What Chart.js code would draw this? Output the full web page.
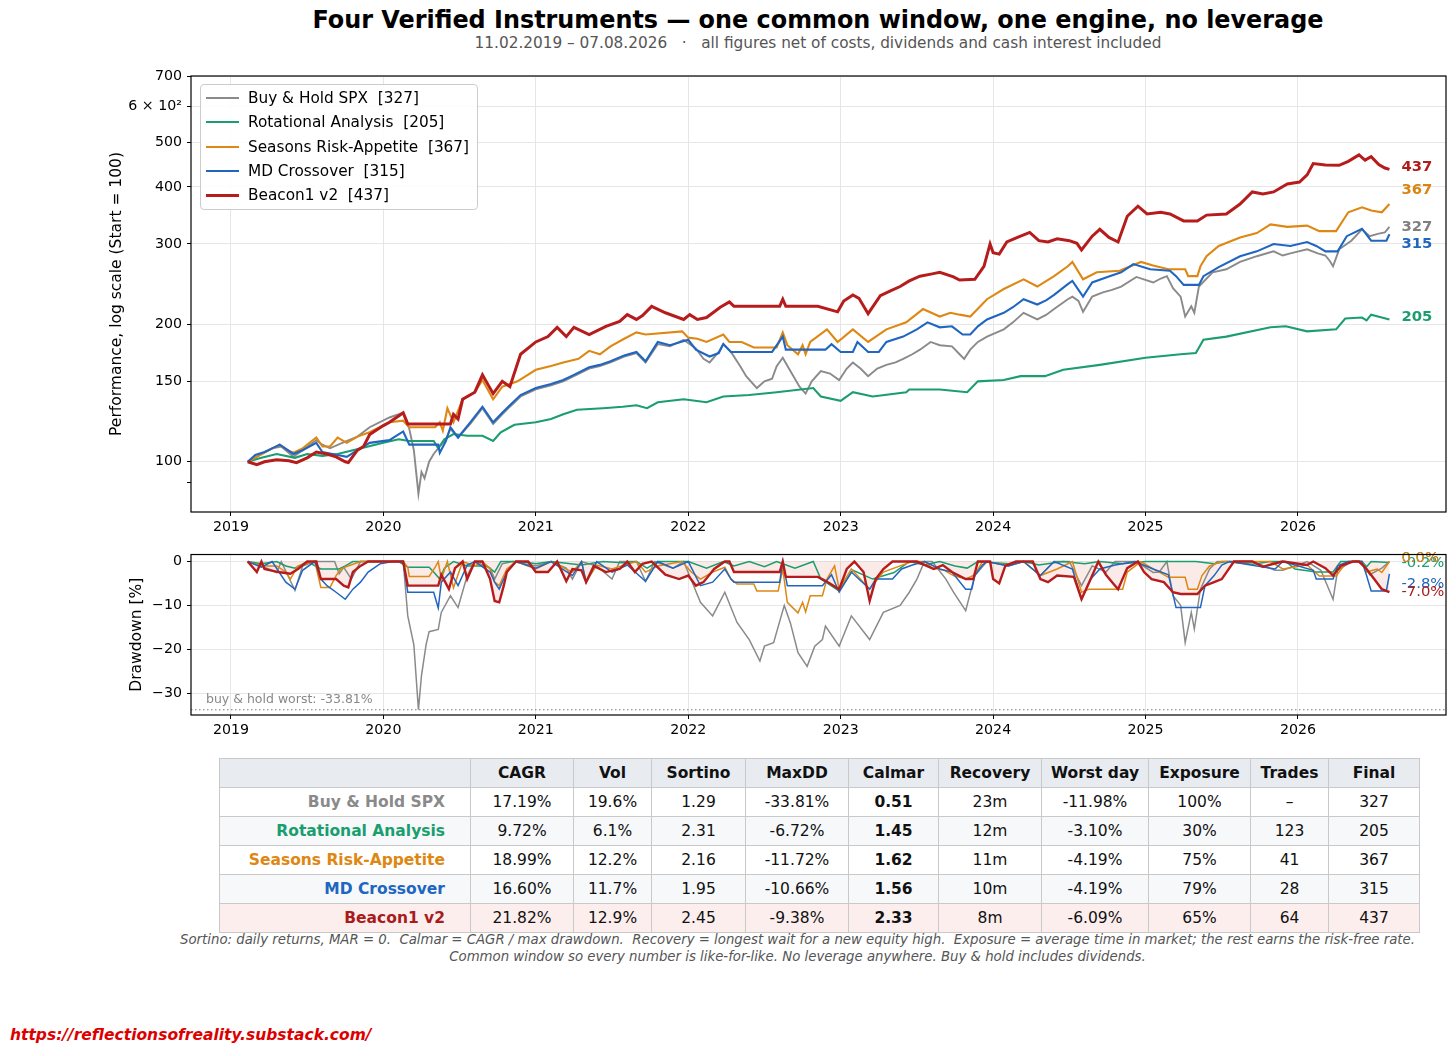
<!DOCTYPE html>
<html>
<head>
<meta charset="utf-8">
<script src="https://cdn.jsdelivr.net/npm/chart.js@4.4.1/dist/chart.umd.min.js"></script>
<style>
  body { margin: 0; width: 1456px; height: 1056px; background: #fff; position: relative; overflow: hidden;
         font-family: "DejaVu Sans", sans-serif; color: #000; }
  .abs { position: absolute; }
  #title { left: 0; top: 5px; width: 1636px; text-align: center; font-size: 23.9px; font-weight: bold; line-height: 30px; }
  #subtitle { left: 0; top: 34px; width: 1636px; text-align: center; font-size: 15.3px; color: #555; line-height: 18px; white-space: pre; }
  #legend { left: 200px; top: 84px; width: 276px; height: 124px; border: 1px solid #ccc; border-radius: 4px;
            background: rgba(255,255,255,0.85); }
  .leg-item { position: absolute; left: 0; height: 24px; line-height: 24px; font-size: 15.3px; white-space: pre; }
  .leg-line { position: absolute; left: 5px; width: 33px; }
  .leg-text { position: absolute; left: 47px; top: 0; }
  table { position: absolute; left: 219px; top: 758px; width: 1200px; border-collapse: collapse; table-layout: fixed;
          font-size: 15.5px; }
  td, th { border: 1px solid #c9c9c9; height: 28px; padding: 0; text-align: center; color: #111; }
  th { background: #e8ecf1; font-weight: bold; }
  td.name { text-align: right; padding-right: 25px; font-weight: bold; }
  td.bold { font-weight: bold; }
  #foot { left: 0; top: 932px; width: 1595px; text-align: center; font-size: 13.3px; font-style: italic; color: #555;
          line-height: 16.5px; white-space: pre; }
  #mark { left: 10px; top: 1026px; font-size: 15.5px; font-weight: bold; font-style: italic; color: #dd0000; }
</style>
</head>
<body>
<div id="title" class="abs">Four Verified Instruments — one common window, one engine, no leverage</div>
<div id="subtitle" class="abs">11.02.2019 – 07.08.2026   ·   all figures net of costs, dividends and cash interest included</div>

<canvas id="perfChart" class="abs" style="left:0;top:60px" width="1456" height="482"></canvas>
<canvas id="ddChart" class="abs" style="left:0;top:541px" width="1456" height="204"></canvas>
<div id="legend" class="abs"></div>
<table id="stats"></table>
<div id="foot" class="abs">Sortino: daily returns, MAR = 0.  Calmar = CAGR / max drawdown.  Recovery = longest wait for a new equity high.  Exposure = average time in market; the rest earns the risk-free rate.
Common window so every number is like-for-like. No leverage anywhere. Buy &amp; hold includes dividends.</div>
<div id="mark" class="abs">https://reflectionsofreality.substack.com/</div>

<script>
// ---- data (decimal year, value) ----
const years = [2019, 2020, 2021, 2022, 2023, 2024, 2025, 2026];
const perfTicks = [90, 100, 150, 200, 300, 400, 500, 600, 700];
const ddTicks = [0, -10, -20, -30];

const names = ['Buy & Hold SPX', 'Rotational Analysis', 'Seasons Risk-Appetite', 'MD Crossover', 'Beacon1 v2'];
const finals = [327, 205, 367, 315, 437];
const ddFinals = ['0.0%', '-0.2%', '0.0%', '-2.8%', '-7.0%'];
const worstBuyHold = -33.81;

const spxPerf = [[2019.11,100],[2019.18,103],[2019.27,107],[2019.33,108],[2019.41,102.5],[2019.47,106],[2019.56,111.5],[2019.6,109],[2019.65,107],[2019.73,110],[2019.83,113.5],[2019.91,119],[2020.04,125],[2020.13,128],[2020.17,118],[2020.2,106],[2020.23,85],[2020.25,95],[2020.27,92],[2020.3,100],[2020.33,104],[2020.37,108],[2020.41,112],[2020.44,118],[2020.49,113],[2020.57,121],[2020.65,131],[2020.72,121],[2020.78,127],[2020.83,132],[2020.9,139],[2021.0,144],[2021.1,147],[2021.18,150],[2021.25,154],[2021.35,160],[2021.42,162],[2021.49,165],[2021.58,170],[2021.66,173],[2021.72,165],[2021.8,181],[2021.88,179],[2021.97,185],[2022.05,177],[2022.1,168],[2022.14,165],[2022.2,174],[2022.23,181],[2022.28,174],[2022.34,162],[2022.38,154],[2022.45,145],[2022.5,150],[2022.55,152],[2022.58,162],[2022.62,169],[2022.67,158],[2022.73,146],[2022.77,141],[2022.81,150],[2022.87,158],[2022.93,156],[2022.99,151],[2023.04,160],[2023.08,165],[2023.13,160],[2023.18,154],[2023.24,160],[2023.3,163],[2023.36,165],[2023.41,168],[2023.47,172],[2023.52,176],[2023.59,183],[2023.65,180],[2023.73,179],[2023.78,172],[2023.81,168],[2023.85,176],[2023.9,183],[2023.96,188],[2024.07,195],[2024.13,202],[2024.2,212],[2024.29,205],[2024.35,210],[2024.4,216],[2024.49,227],[2024.52,230],[2024.56,225],[2024.59,213],[2024.65,230],[2024.72,235],[2024.78,238],[2024.84,242],[2024.94,254],[2025.05,247],[2025.1,252],[2025.14,255],[2025.18,240],[2025.23,230],[2025.26,208],[2025.3,219],[2025.32,212],[2025.35,242],[2025.44,260],[2025.53,264],[2025.62,274],[2025.73,282],[2025.84,289],[2025.9,283],[2025.95,286],[2026.06,292],[2026.13,286],[2026.18,283],[2026.21,275],[2026.23,268],[2026.27,292],[2026.35,305],[2026.42,323],[2026.47,312],[2026.53,316],[2026.57,318],[2026.6,327]];

const rotPerf = [[2019.11,100],[2019.2,102],[2019.3,104],[2019.42,102],[2019.5,104],[2019.6,103],[2019.7,104],[2019.8,106],[2019.9,108],[2020.0,110],[2020.1,112],[2020.17,111],[2020.33,111],[2020.36,107],[2020.4,112],[2020.46,115],[2020.55,114],[2020.65,114],[2020.72,111],[2020.77,116],[2020.83,119],[2020.86,120.5],[2021.0,122],[2021.1,124],[2021.18,127],[2021.27,130],[2021.44,131],[2021.57,132],[2021.66,133],[2021.73,131],[2021.8,135],[2021.97,137],[2022.12,135],[2022.23,139],[2022.4,140],[2022.58,142],[2022.82,145],[2022.87,139],[2023.0,136],[2023.08,142],[2023.21,139],[2023.43,142],[2023.45,144],[2023.65,144],[2023.83,142],[2023.9,150],[2024.07,151],[2024.18,154],[2024.34,154],[2024.46,159],[2024.7,163],[2025.0,169],[2025.23,172],[2025.33,173],[2025.38,185],[2025.53,188],[2025.82,197],[2025.92,198],[2026.06,193],[2026.25,195],[2026.31,206],[2026.42,207],[2026.45,204],[2026.48,210],[2026.6,205]];

const seasonsPerf = [[2019.11,100],[2019.18,103],[2019.25,106],[2019.32,109],[2019.37,106],[2019.41,104.6],[2019.47,107],[2019.56,113],[2019.6,108],[2019.65,108],[2019.7,113],[2019.76,110],[2019.83,113.5],[2019.91,116],[2020.04,122],[2020.13,123],[2020.17,119],[2020.34,119],[2020.37,122],[2020.39,117],[2020.42,131],[2020.46,122],[2020.52,137],[2020.6,142],[2020.65,151],[2020.72,137],[2020.78,146],[2020.88,150],[2021.0,159],[2021.1,162],[2021.18,165],[2021.28,168],[2021.35,175],[2021.42,172],[2021.49,179],[2021.58,186],[2021.66,192],[2021.72,190],[2021.96,193],[2022.0,187],[2022.06,186],[2022.12,183],[2022.23,190],[2022.27,183],[2022.35,183],[2022.43,178],[2022.58,178],[2022.62,192],[2022.65,180],[2022.72,172],[2022.75,180],[2022.77,172],[2022.8,183],[2022.91,195],[2022.98,183],[2023.08,195],[2023.18,183],[2023.3,195],[2023.43,202],[2023.54,216],[2023.65,208],[2023.72,212],[2023.78,210],[2023.85,208],[2023.96,227],[2024.07,239],[2024.2,251],[2024.29,242],[2024.4,255],[2024.49,268],[2024.52,274],[2024.59,251],[2024.68,260],[2024.83,262],[2024.97,274],[2025.05,269],[2025.15,264],[2025.26,264],[2025.28,255],[2025.34,255],[2025.36,268],[2025.4,282],[2025.48,297],[2025.62,310],[2025.73,317],[2025.82,331],[2025.93,327],[2026.06,329],[2026.14,320],[2026.25,320],[2026.33,352],[2026.42,361],[2026.48,355],[2026.55,352],[2026.6,367]];

const mdPerf = [[2019.11,100],[2019.16,103.5],[2019.22,105],[2019.27,107],[2019.32,109],[2019.41,104],[2019.47,106],[2019.56,110],[2019.6,105],[2019.7,103.5],[2019.76,102.5],[2019.83,106],[2019.91,110],[2020.04,111.5],[2020.13,116.5],[2020.17,109],[2020.36,109],[2020.37,104.6],[2020.41,111],[2020.44,119],[2020.49,113],[2020.57,122],[2020.65,132],[2020.72,122],[2020.78,128],[2020.83,133],[2020.9,140],[2021.0,145],[2021.1,148],[2021.18,151],[2021.25,155],[2021.35,161],[2021.42,163],[2021.49,166],[2021.58,171],[2021.66,174],[2021.72,166],[2021.8,183],[2021.88,180],[2022.0,185],[2022.05,176],[2022.14,170],[2022.2,173],[2022.23,181],[2022.28,174],[2022.55,174],[2022.62,188],[2022.64,176],[2022.9,176],[2022.94,181],[2023.0,174],[2023.08,174],[2023.11,183],[2023.18,174],[2023.25,174],[2023.3,183],[2023.41,188],[2023.5,195],[2023.57,202],[2023.65,197],[2023.73,198],[2023.8,190],[2023.85,190],[2023.9,198],[2023.96,205],[2024.07,212],[2024.13,218],[2024.2,227],[2024.29,221],[2024.35,226],[2024.4,232],[2024.49,245],[2024.52,249],[2024.59,230],[2024.65,247],[2024.75,254],[2024.84,260],[2024.92,271],[2025.03,264],[2025.16,262],[2025.2,255],[2025.25,244],[2025.35,244],[2025.38,255],[2025.48,267],[2025.62,282],[2025.73,289],[2025.84,300],[2025.95,297],[2026.06,303],[2026.12,297],[2026.18,289],[2026.26,289],[2026.32,312],[2026.42,324],[2026.48,305],[2026.58,305],[2026.6,315]];

const beaconPerf = [[2019.11,100],[2019.17,98.5],[2019.22,100],[2019.3,101],[2019.38,100.5],[2019.43,99.5],[2019.5,102],[2019.56,105],[2019.63,104],[2019.69,102.5],[2019.75,100],[2019.77,99.6],[2019.83,106],[2019.87,108],[2019.91,114.7],[2020.0,120],[2020.04,122],[2020.1,126],[2020.13,128],[2020.16,121],[2020.44,121],[2020.46,127],[2020.49,124],[2020.52,137],[2020.6,142],[2020.65,155],[2020.72,141],[2020.78,150],[2020.83,146],[2020.9,172],[2021.0,183],[2021.08,188],[2021.14,197],[2021.2,188],[2021.25,197],[2021.35,190],[2021.46,198],[2021.55,203],[2021.6,210],[2021.66,205],[2021.7,209],[2021.76,219],[2021.85,212],[2021.97,205],[2022.01,210],[2022.06,205],[2022.12,207],[2022.21,218],[2022.27,224],[2022.3,219],[2022.6,219],[2022.62,227],[2022.64,219],[2022.85,219],[2022.98,213],[2023.02,225],[2023.08,232],[2023.12,228],[2023.18,211],[2023.26,231],[2023.33,237],[2023.39,242],[2023.45,249],[2023.52,255],[2023.6,258],[2023.65,260],[2023.74,254],[2023.78,250],[2023.88,251],[2023.94,268],[2023.98,300],[2024.0,287],[2024.04,285],[2024.09,303],[2024.16,310],[2024.24,318],[2024.3,305],[2024.36,303],[2024.42,308],[2024.5,305],[2024.55,301],[2024.58,291],[2024.65,312],[2024.7,323],[2024.76,310],[2024.82,303],[2024.88,345],[2024.95,363],[2025.01,349],[2025.1,352],[2025.16,349],[2025.25,337],[2025.34,337],[2025.4,347],[2025.53,349],[2025.62,367],[2025.7,390],[2025.77,386],[2025.84,390],[2025.93,406],[2026.01,410],[2026.06,425],[2026.1,450],[2026.18,447],[2026.27,446],[2026.33,455],[2026.4,470],[2026.44,458],[2026.48,466],[2026.53,448],[2026.57,440],[2026.6,437]];

const spxDD = [[2019.11,0],[2019.2,-1],[2019.3,-2.5],[2019.33,0],[2019.42,-6.6],[2019.47,-1],[2019.55,0],[2019.68,0],[2019.71,-2.8],[2019.74,-1.3],[2019.79,-4],[2019.85,0],[2020.13,0],[2020.16,-12.4],[2020.2,-19],[2020.23,-33.8],[2020.25,-26],[2020.28,-19],[2020.3,-16],[2020.36,-15.5],[2020.38,-11.6],[2020.44,-7.8],[2020.49,-10.5],[2020.55,-3.2],[2020.6,0],[2020.7,-1.5],[2020.73,-4],[2020.78,-0.5],[2020.85,0],[2021.0,-1],[2021.1,0],[2021.2,-1.5],[2021.24,-4],[2021.3,0],[2021.4,-1],[2021.5,-4],[2021.55,0],[2021.66,0],[2021.72,-4.5],[2021.78,0],[2021.9,-1.5],[2021.97,0],[2022.08,-9.3],[2022.16,-12.4],[2022.24,-7],[2022.32,-13.9],[2022.4,-17.8],[2022.47,-22.7],[2022.5,-19.3],[2022.56,-18.5],[2022.63,-10],[2022.67,-14],[2022.72,-20.8],[2022.78,-23.9],[2022.83,-19.3],[2022.88,-17.8],[2022.9,-14.7],[2022.99,-19.3],[2023.07,-12.4],[2023.19,-17.8],[2023.28,-11.6],[2023.39,-10],[2023.45,-7],[2023.5,-4],[2023.55,0],[2023.6,0],[2023.69,-4],[2023.74,-7],[2023.82,-11.2],[2023.88,-3.2],[2023.96,0],[2024.1,-1],[2024.2,0],[2024.31,-3.2],[2024.4,0],[2024.5,0],[2024.58,-5.5],[2024.65,-1],[2024.74,-2.4],[2024.8,0],[2024.94,0],[2025.05,-2.5],[2025.09,-2.4],[2025.14,0],[2025.18,-7.8],[2025.23,-10],[2025.26,-18.5],[2025.3,-11.6],[2025.32,-15.4],[2025.36,-6.3],[2025.42,-1.7],[2025.47,0],[2025.7,0],[2025.85,-2],[2025.9,-2],[2026.06,0],[2026.15,-2],[2026.23,-8.6],[2026.26,-2],[2026.35,0],[2026.42,0],[2026.47,-3],[2026.55,-1.5],[2026.6,0]];

const rotDD = [[2019.11,0],[2019.2,-0.5],[2019.3,0],[2019.36,-1],[2019.42,-1.5],[2019.5,0],[2019.59,-1.7],[2019.71,-1.7],[2019.75,-1],[2019.8,0],[2020.1,0],[2020.16,-1.3],[2020.3,-1.3],[2020.33,-2.4],[2020.37,-4],[2020.4,-1.5],[2020.46,0],[2020.55,-1],[2020.68,-1],[2020.73,-2.4],[2020.77,0],[2020.9,0],[2021.0,-0.5],[2021.1,0],[2021.3,-0.8],[2021.44,0],[2021.57,-0.3],[2021.66,0],[2021.73,-1.5],[2021.8,0],[2022.0,0],[2022.12,-1.5],[2022.23,0],[2022.3,-1],[2022.4,0],[2022.5,-1.2],[2022.58,0],[2022.7,-1.5],[2022.82,0],[2022.87,-4],[2022.99,-6.7],[2023.08,-2],[2023.21,-4],[2023.35,-2.5],[2023.45,0],[2023.55,-0.8],[2023.65,0],[2023.75,-1],[2023.83,-1.5],[2023.9,0],[2024.1,-0.5],[2024.2,0],[2024.3,-0.8],[2024.46,0],[2024.6,-0.5],[2024.7,0],[2024.85,-0.5],[2025.0,0],[2025.33,0],[2025.45,-0.5],[2025.53,0],[2025.7,-0.6],[2025.82,0],[2025.92,0],[2025.98,-1.7],[2026.12,-2.4],[2026.23,-2.4],[2026.28,0],[2026.42,0],[2026.45,-1.2],[2026.48,0],[2026.6,-0.2]];

const seasonsDD = [[2019.11,0],[2019.2,-1],[2019.3,-1],[2019.36,-2.4],[2019.39,-4],[2019.44,-1],[2019.55,0],[2019.59,-5.9],[2019.65,-5.9],[2019.69,-3.2],[2019.72,-1.7],[2019.77,-1],[2019.85,0],[2020.13,0],[2020.16,-1.3],[2020.17,-3.4],[2020.3,-3.4],[2020.34,-1.3],[2020.36,0],[2020.38,-4],[2020.42,0],[2020.46,-6],[2020.52,0],[2020.6,-1],[2020.65,0],[2020.7,-1.7],[2020.73,-4.7],[2020.76,-5.5],[2020.81,-1.7],[2020.87,0],[2021.0,-1.7],[2021.1,0],[2021.24,-2.4],[2021.3,0],[2021.33,-4.7],[2021.4,-0.8],[2021.5,-1.7],[2021.66,0],[2021.72,-2.4],[2021.8,-1],[2021.96,0],[2022.02,-2.4],[2022.08,-4],[2022.16,-2.4],[2022.24,-1.3],[2022.28,-4],[2022.32,-5.1],[2022.43,-5.1],[2022.45,-6.7],[2022.59,-6.7],[2022.62,-1.7],[2022.65,-9.3],[2022.72,-11.7],[2022.75,-9.3],[2022.77,-11.5],[2022.8,-7.8],[2022.88,-7.8],[2022.91,-4],[2022.96,-1],[2022.99,-6.3],[2023.07,-1.7],[2023.19,-6.3],[2023.28,-2.4],[2023.39,-1],[2023.47,0],[2023.55,0],[2023.6,-1.5],[2023.68,-2],[2023.74,-3.2],[2023.82,-4],[2023.88,-3],[2023.93,0],[2024.1,-0.8],[2024.2,0],[2024.31,-3.2],[2024.42,-1.7],[2024.52,0],[2024.58,-7],[2024.63,-6.3],[2024.85,-6.3],[2024.88,-2.4],[2024.97,0],[2025.05,-1.7],[2025.09,-2.4],[2025.15,-3.6],[2025.26,-3.6],[2025.28,-6.3],[2025.34,-6.3],[2025.37,-3.2],[2025.42,-1],[2025.5,0],[2025.82,0],[2025.9,-1.7],[2026.06,-0.8],[2026.14,-3.3],[2026.25,-3.3],[2026.3,-1],[2026.33,0],[2026.42,0],[2026.45,-2.4],[2026.52,-1.7],[2026.55,-2.5],[2026.6,0]];

const mdDD = [[2019.11,0],[2019.2,-1.3],[2019.27,0],[2019.36,-4.7],[2019.42,-6.3],[2019.47,-2],[2019.55,0],[2019.59,-4],[2019.63,-5.5],[2019.69,-7],[2019.75,-8.6],[2019.8,-6.3],[2019.85,-4.7],[2019.9,-2.4],[2019.98,-0.5],[2020.06,0],[2020.13,0],[2020.16,-7],[2020.33,-7],[2020.36,-10.6],[2020.38,-4.7],[2020.44,-2.4],[2020.49,-5.5],[2020.55,-0.8],[2020.6,0],[2020.7,-2.4],[2020.73,-4.7],[2020.76,-6.3],[2020.81,-2.4],[2020.87,0],[2021.0,-1.5],[2021.1,0],[2021.24,-3.2],[2021.3,0],[2021.33,-4.7],[2021.4,0],[2021.5,-2.4],[2021.6,-0.8],[2021.72,-4.5],[2021.8,0],[2021.9,-1.5],[2022.0,0],[2022.08,-5.5],[2022.16,-4.7],[2022.24,-1.7],[2022.28,-4],[2022.3,-4.7],[2022.6,-4.7],[2022.62,0],[2022.65,-5.5],[2022.88,-5.5],[2022.94,-3],[2022.99,-7],[2023.07,-2.4],[2023.19,-6.3],[2023.23,-4],[2023.34,-4],[2023.4,-1.7],[2023.47,-0.8],[2023.55,0],[2023.65,-1.7],[2023.73,-2.4],[2023.82,-6.3],[2023.86,-6.3],[2023.88,-3.2],[2023.93,-0.8],[2023.96,0],[2024.1,-1],[2024.2,0],[2024.31,-3.2],[2024.4,0],[2024.52,-1.7],[2024.58,-8.6],[2024.64,-4],[2024.7,-1.7],[2024.8,-0.8],[2024.93,0],[2025.05,-1.7],[2025.15,-3],[2025.2,-10.5],[2025.36,-10.5],[2025.39,-5.5],[2025.45,-3.2],[2025.5,-0.8],[2025.55,0],[2025.85,-1.7],[2025.9,0],[2026.1,-2],[2026.12,-4],[2026.23,-4],[2026.26,-1],[2026.33,0],[2026.42,0],[2026.45,-3.2],[2026.48,-6.7],[2026.58,-6.7],[2026.6,-2.8]];

const beaconDD = [[2019.11,0],[2019.17,-2.4],[2019.2,0],[2019.22,-1.7],[2019.31,-2.4],[2019.39,-2.8],[2019.44,-1.7],[2019.5,0],[2019.56,0],[2019.59,-4],[2019.69,-4],[2019.74,-5.5],[2019.77,-5.9],[2019.8,-2.4],[2019.85,-1],[2019.9,0],[2020.13,0],[2020.16,-5.5],[2020.36,-5.5],[2020.38,-3],[2020.43,-6.3],[2020.47,-1.5],[2020.52,0],[2020.55,-4],[2020.6,0],[2020.65,0],[2020.7,-4],[2020.73,-9],[2020.76,-9.3],[2020.79,-5.5],[2020.81,-2.4],[2020.87,0],[2020.95,0],[2021.0,-2.4],[2021.08,-2.4],[2021.14,0],[2021.2,-4.5],[2021.24,-1.7],[2021.3,-2],[2021.33,-4.7],[2021.38,-1],[2021.46,-2.4],[2021.55,-1.7],[2021.6,0],[2021.65,-2.4],[2021.7,-0.5],[2021.76,0],[2021.85,-3],[2021.94,-4],[2022.0,-3.2],[2022.05,-5.5],[2022.1,-4.7],[2022.17,-1.7],[2022.24,0],[2022.27,0],[2022.3,-2.4],[2022.6,-2.4],[2022.62,0],[2022.64,-3.5],[2022.85,-3.5],[2022.9,-4.4],[2022.99,-6.3],[2023.04,-1.7],[2023.09,0],[2023.15,-2.4],[2023.19,-9],[2023.23,-4],[2023.28,-1.7],[2023.34,0],[2023.5,0],[2023.61,-1.7],[2023.67,-0.8],[2023.73,-2.4],[2023.82,-4],[2023.87,-4],[2023.9,0],[2023.98,0],[2024.0,-4],[2024.04,-5],[2024.08,-1],[2024.15,0],[2024.26,0],[2024.31,-4],[2024.36,-4.7],[2024.42,-3.2],[2024.53,-3.5],[2024.58,-8.6],[2024.64,-4],[2024.69,0],[2024.74,-3],[2024.8,-5.5],[2024.82,-6.3],[2024.88,-1.5],[2024.95,0],[2024.99,-2.4],[2025.04,-4],[2025.12,-4.7],[2025.18,-7],[2025.23,-7.4],[2025.34,-7.4],[2025.39,-5.5],[2025.45,-4.7],[2025.5,-4],[2025.58,0],[2025.7,0],[2025.77,-1.2],[2025.84,-0.5],[2025.9,0],[2026.06,-0.8],[2026.1,0],[2026.18,-1.5],[2026.23,-3.2],[2026.28,-1],[2026.36,0],[2026.4,0],[2026.45,-1.7],[2026.5,-4],[2026.55,-6.3],[2026.6,-7.0]];

const tableHead = ['', 'CAGR', 'Vol', 'Sortino', 'MaxDD', 'Calmar', 'Recovery', 'Worst day', 'Exposure', 'Trades', 'Final'];
const tableRows = [
  ['Buy & Hold SPX', '17.19%', '19.6%', '1.29', '-33.81%', '0.51', '23m', '-11.98%', '100%', '–', '327'],
  ['Rotational Analysis', '9.72%', '6.1%', '2.31', '-6.72%', '1.45', '12m', '-3.10%', '30%', '123', '205'],
  ['Seasons Risk-Appetite', '18.99%', '12.2%', '2.16', '-11.72%', '1.62', '11m', '-4.19%', '75%', '41', '367'],
  ['MD Crossover', '16.60%', '11.7%', '1.95', '-10.66%', '1.56', '10m', '-4.19%', '79%', '28', '315'],
  ['Beacon1 v2', '21.82%', '12.9%', '2.45', '-9.38%', '2.33', '8m', '-6.09%', '65%', '64', '437']
];

// ---- styling ----
const colors = ['#8a8a8a', '#1a9e6e', '#de8712', '#2066c0', '#b71c1c'];
const labelColors = ['#7f7f7f', '#1a9e6e', '#d98510', '#2066c0', '#b01c1c'];
const nameColors = ['#8a8a8a', '#1a9e6e', '#de8712', '#2066c0', '#a81c1c'];
const rowBg = ['#ffffff', '#f6f8fa', '#ffffff', '#f6f8fa', '#fdeeee'];
const perfWidths = [1.9, 2.1, 2.1, 2.1, 3.0];
const ddWidths = [1.5, 1.5, 1.5, 1.5, 2.4];
const legendWidths = [2, 2, 2, 2, 3];
const drawOrder = [4, 3, 2, 1, 0];
const perfLabelNudge = [0, -2, -14, 10, -2];
const ddLabelNudge = [-3, 1, -3, 10, 0];
const colWidths = [251, 103, 78, 94, 103, 90, 103, 107, 102, 78, 91];

const X_MIN = 2018.738, X_MAX = 2026.971;
const GRID = '#e6e6e6';
const TICK_FONT = { size: 14.2 };
const TITLE_FONT = { size: 15.5 };
Chart.defaults.font.family = '"DejaVu Sans", sans-serif';
Chart.defaults.color = '#000';

const toXY = arr => arr.map(p => ({ x: p[0], y: p[1] }));
const perfSeries = [spxPerf, rotPerf, seasonsPerf, mdPerf, beaconPerf];
const ddSeries = [spxDD, rotDD, seasonsDD, mdDD, beaconDD];

// box round the plot, like matplotlib's spines
const framePlugin = {
  id: 'frame',
  afterDraw(chart) {
    const { ctx, chartArea: a } = chart;
    ctx.save();
    ctx.strokeStyle = '#000';
    ctx.lineWidth = 1.2;
    ctx.strokeRect(a.left, a.top, a.right - a.left, a.bottom - a.top);
    ctx.restore();
  }
};

function endLabels(texts, nudges, bold) {
  return {
    id: 'endLabels',
    afterDatasetsDraw(chart) {
      const { ctx } = chart;
      const xs = chart.scales.x, ys = chart.scales.y;
      ctx.save();
      ctx.font = (bold ? 'bold ' : '') + '14.8px "DejaVu Sans"';
      ctx.textBaseline = 'middle';
      ctx.textAlign = 'left';
      chart.data.datasets.forEach((ds, i) => {
        const last = ds.data[ds.data.length - 1];
        ctx.fillStyle = labelColors[i];
        ctx.fillText(texts[i], xs.getPixelForValue(last.x) + 12, ys.getPixelForValue(last.y) + nudges[i]);
      });
      ctx.restore();
    }
  };
}

const worstLine = {
  id: 'worstLine',
  afterDatasetsDraw(chart) {
    const { ctx, chartArea: a } = chart;
    const y = chart.scales.y.getPixelForValue(worstBuyHold);
    ctx.save();
    ctx.strokeStyle = '#777';
    ctx.lineWidth = 1;
    ctx.setLineDash([1.5, 2.5]);
    ctx.beginPath();
    ctx.moveTo(a.left, y);
    ctx.lineTo(a.right, y);
    ctx.stroke();
    ctx.setLineDash([]);
    ctx.fillStyle = '#888';
    ctx.font = '12.5px "DejaVu Sans"';
    ctx.textBaseline = 'alphabetic';
    ctx.fillText('buy & hold worst: ' + worstBuyHold.toFixed(2) + '%', a.left + 15, y - 7);
    ctx.restore();
  }
};

function xAxis() {
  return {
    type: 'linear', min: X_MIN, max: X_MAX,
    afterBuildTicks: s => { s.ticks = years.map(v => ({ value: v })); },
    ticks: { callback: v => String(v), font: TICK_FONT, color: '#000', padding: 3, maxRotation: 0 },
    grid: { color: GRID, tickColor: '#000', tickLength: 4, lineWidth: 1 },
    border: { display: false },
    afterFit: s => { s.height = 30; }
  };
}

new Chart(document.getElementById('perfChart'), {
  type: 'line',
  data: {
    datasets: perfSeries.map((d, i) => ({
      label: names[i], data: toXY(d), borderColor: colors[i], borderWidth: perfWidths[i],
      pointRadius: 0, tension: 0, fill: false, order: drawOrder[i]
    }))
  },
  options: {
    responsive: false, animation: false, devicePixelRatio: 1,
    layout: { padding: { left: 104, right: 10, top: 16, bottom: 0 } },
    plugins: { legend: { display: false }, tooltip: { enabled: false } },
    scales: {
      x: xAxis(),
      y: {
        type: 'logarithmic', min: 77.6, max: 700,
        afterBuildTicks: s => { s.ticks = perfTicks.map(v => ({ value: v })); },
        ticks: { callback: v => v === 600 ? '6 × 10²' : (v === 90 ? '' : String(v)), font: TICK_FONT, color: '#000', padding: 5 },
        grid: { color: c => (c.tick && c.tick.value === 90) ? 'rgba(0,0,0,0)' : GRID, tickColor: '#000', tickLength: 4 },
        border: { display: false },
        title: { display: true, text: 'Performance, log scale (Start = 100)', font: TITLE_FONT, color: '#000' },
        afterFit: s => { s.width = 87; }
      }
    }
  },
  plugins: [framePlugin, endLabels(finals.map(String), perfLabelNudge, true)]
});

new Chart(document.getElementById('ddChart'), {
  type: 'line',
  data: {
    datasets: ddSeries.map((d, i) => ({
      label: names[i], data: toXY(d), borderColor: colors[i], borderWidth: ddWidths[i],
      pointRadius: 0, tension: 0, order: drawOrder[i],
      fill: i === 4 ? 'origin' : false,
      backgroundColor: i === 4 ? 'rgba(214, 60, 50, 0.11)' : 'transparent'
    }))
  },
  options: {
    responsive: false, animation: false, devicePixelRatio: 1,
    layout: { padding: { left: 124, right: 10, top: 0, bottom: 0 } },
    plugins: { legend: { display: false }, tooltip: { enabled: false }, filler: { drawTime: 'beforeDatasetsDraw' } },
    scales: {
      x: xAxis(),
      y: {
        type: 'linear', min: -35, max: 1.6,
        afterBuildTicks: s => { s.ticks = ddTicks.map(v => ({ value: v })); },
        ticks: { callback: v => String(v).replace('-', '\u2212'), font: TICK_FONT, color: '#000', padding: 5 },
        grid: { color: GRID, tickColor: '#000', tickLength: 4 },
        border: { display: false },
        title: { display: true, text: 'Drawdown [%]', font: TITLE_FONT, color: '#000' },
        afterFit: s => { s.width = 67; }
      }
    }
  },
  plugins: [framePlugin, worstLine, endLabels(ddFinals, ddLabelNudge, false)]
});

// legend box
const legend = document.getElementById('legend');
names.forEach((n, i) => {
  const item = document.createElement('div');
  item.className = 'leg-item';
  item.style.top = Math.round(1 + i * 24.3) + 'px';
  const w = legendWidths[i];
  item.innerHTML = '<div class="leg-line" style="height:' + w + 'px;top:' + (12 - Math.floor(w / 2)) + 'px;background:' + colors[i] +
    '"></div><div class="leg-text"></div>';
  item.querySelector('.leg-text').textContent = n + '  [' + finals[i] + ']';
  legend.appendChild(item);
});

// stats table
const table = document.getElementById('stats');
const cg = document.createElement('colgroup');
colWidths.forEach(w => { const c = document.createElement('col'); c.style.width = w + 'px'; cg.appendChild(c); });
table.appendChild(cg);
const hr = document.createElement('tr');
tableHead.forEach(h => { const th = document.createElement('th'); th.textContent = h; hr.appendChild(th); });
table.appendChild(hr);
tableRows.forEach((row, r) => {
  const tr = document.createElement('tr');
  tr.style.background = rowBg[r];
  row.forEach((cell, c) => {
    const td = document.createElement('td');
    td.textContent = cell;
    if (c === 0) { td.className = 'name'; td.style.color = nameColors[r]; }
    if (c === 5) td.className = 'bold';
    tr.appendChild(td);
  });
  table.appendChild(tr);
});
</script>
</body>
</html>
